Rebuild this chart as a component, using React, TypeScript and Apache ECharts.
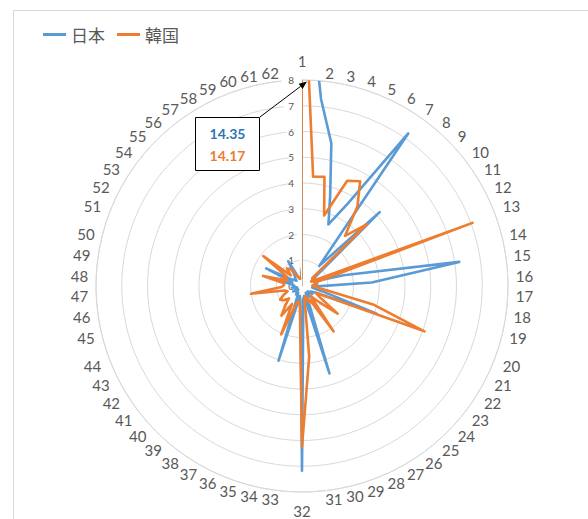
import React, { useEffect, useRef } from "react";
import * as echarts from "echarts";

const categories = [
  "1","2","3","4","5","6","7","8","9","10","11","12","13","14","15","16","17","18","19","20",
  "21","22","23","24","25","26","27","28","29","30","31","32","33","34","35","36","37","38","39","40",
  "41","42","43","44","45","46","47","48","49","50","51","52","53","54","55","56","57","58","59","60",
  "61","62",
];

// 日本
const japan = [
  14.35, 7.3, 5.66, 3.65, 2.6, 3.66, 7.22, 1.03, 4.16, 0.9,
  0.5, 0.4, 0.5, 1.66, 6.18, 2.71, 0.45, 0.4, 0.8, 3.09,
  0.6, 0.4, 0.5, 0.3, 0.4, 0.5, 0.3, 0.6, 3.56, 0.4,
  0.5, 7.17, 0.6, 0.4, 3.04, 0.5, 0.3, 0.4, 0.3, 0.2,
  0.3, 0.4, 0.2, 0.3, 0.2, 0.4, 0.3, 0.3, 0.4, 0.9,
  0.4, 1.55, 0.5, 0.4, 0.3, 0.4, 0.5, 1.1, 0.4, 0.3,
  0.3, 0.3,
];

// 韓国
const korea = [
  14.17, 4.27, 4.33, 2.87, 4.45, 4.65, 3.77, 2.57, 3.47, 0.5,
  0.6, 0.4, 7.06, 0.5, 0.6, 0.4, 0.5, 0.8, 2.85, 5.07,
  0.6, 0.8, 1.75, 0.9, 0.5, 2.15, 0.6, 0.7, 0.4, 0.5,
  2.76, 6.24, 0.8, 0.6, 0.7, 2.05, 0.8, 1.4, 1.0, 0.7,
  0.9, 1.0, 0.8, 0.6, 0.7, 2.0, 0.8, 0.7, 0.7, 1.56,
  0.6, 0.8, 0.7, 1.9, 0.6, 0.9, 0.8, 0.6, 0.4, 0.3,
  0.3, 0.3,
];

const radiusMin = 0;
const radiusMax = 8;
const radiusStep = 1;

const BLUE = "#5b9bd5";
const ORANGE = "#ed7d31";
const GREY_TEXT = "#595959";
const NUM_FONT = "Lato, 'Noto Sans', sans-serif";

// Excel-like placement of the category labels around the circle
function labelPadding(i: number, n: number, text: string) {
  const th = (i * 2 * Math.PI) / n;
  const s = Math.sin(th);
  const c = Math.cos(th);
  const w = text.length * 8.4;
  const h2 = 7.5;
  let ox: number;
  let oy: number;
  if (Math.abs(s) < 0.01) {
    ox = 0;
    oy = -Math.sign(c) * 19;
  } else {
    ox = Math.sign(s) * (w / 2 + 2 + 6 * Math.abs(s));
    oy = Math.abs(c) > 0.3 ? -Math.sign(c) * (h2 + 0.5) : (-c * (h2 + 0.5)) / 0.3;
  }
  let pt = 0, pr = 0, pb = 0, pl = 0;
  if (Math.abs(s) < 0.3) {
    if (ox >= 0) pl = 2 * ox;
    else pr = -2 * ox;
  } else if (s > 0) pl = ox - w / 2;
  else pr = -ox - w / 2;
  if (Math.abs(c) < 0.3) {
    if (oy >= 0) pt = 2 * oy;
    else pb = -2 * oy;
  } else if (c > 0) pb = -oy - h2;
  else pt = oy - h2;
  return [Math.max(0, pt), Math.max(0, pr), Math.max(0, pb), Math.max(0, pl)];
}

export default function App() {
  const ref = useRef<HTMLDivElement>(null);

  useEffect(() => {
    if (!ref.current) return;
    const chart = echarts.init(ref.current, null, { renderer: "svg" });
    const closeLoop = (arr: number[]) => [
      ...arr.map((v, i) => [v, i]),
      [arr[0], 0],
    ];
    const CX = 302;
    const CY = 286;
    const R = 206;

    chart.setOption({
      animation: false,
      backgroundColor: "#ffffff",
      legend: {
        left: 38,
        top: 21,
        itemGap: 12,
        itemWidth: 23,
        itemHeight: 3,
        icon: "rect",
        textStyle: {
          color: GREY_TEXT,
          fontSize: 17,
          fontFamily: "'Noto Sans CJK JP', sans-serif",
        },
        data: ["日本", "韓国"],
      },
      polar: { center: [CX, CY], radius: R },
      angleAxis: {
        type: "category",
        data: categories.map((c, i) => ({
          value: c,
          textStyle: {
            color: GREY_TEXT,
            fontSize: 15,
            fontFamily: NUM_FONT,
            lineHeight: 15,
            padding: labelPadding(i, categories.length, c),
          },
        })),
        boundaryGap: false,
        startAngle: 90,
        clockwise: true,
        axisLine: { show: true, lineStyle: { color: "#d9d9d9", width: 1 } },
        axisTick: { show: false },
        splitLine: { show: false },
        axisLabel: {
          interval: 0,
          color: GREY_TEXT,
          fontSize: 15,
          lineHeight: 15,
          margin: 0,
          fontFamily: NUM_FONT,
        },
      },
      radiusAxis: {
        type: "value",
        min: radiusMin,
        max: radiusMax,
        interval: radiusStep,
        axisLine: { show: true, lineStyle: { color: "#bfbfbf", width: 1 } },
        axisTick: { show: false },
        splitLine: { show: true, lineStyle: { color: "#d9d9d9", width: 1 } },
        axisLabel: {
          color: GREY_TEXT,
          fontSize: 10,
          margin: 8,
          fontFamily: NUM_FONT,
        },
        z: 1,
      },
      series: [
        {
          name: "日本",
          type: "line",
          coordinateSystem: "polar",
          data: closeLoop(japan),
          symbol: "none",
          showSymbol: false,
          clip: true,
          lineStyle: { color: BLUE, width: 2.6, join: "round" },
          itemStyle: { color: BLUE },
          z: 3,
        },
        {
          name: "韓国",
          type: "line",
          coordinateSystem: "polar",
          data: closeLoop(korea),
          symbol: "none",
          showSymbol: false,
          clip: true,
          lineStyle: { color: ORANGE, width: 2.6, join: "round" },
          itemStyle: { color: ORANGE },
          z: 4,
        },
      ],
    });

    let tip: number[] | undefined;
    try {
      tip = chart.convertToPixel({ polarIndex: 0 } as any, [radiusMax, 0]) as any;
    } catch (e) {
      tip = undefined;
    }
    if (!tip || isNaN(tip[0])) tip = [CX, CY - R];
    const tx = tip[0] + 5;
    const ty = tip[1] + 1.5;
    const sx = 260;
    const sy = 117;
    const dx = tx - sx;
    const dy = ty - sy;
    const len = Math.sqrt(dx * dx + dy * dy);
    const ux = dx / len;
    const uy = dy / len;
    const bx = tx - ux * 8;
    const by = ty - uy * 8;
    const px = -uy * 3.2;
    const py = ux * 3.2;

    chart.setOption({
      graphic: [
        {
          type: "rect",
          silent: true,
          z: -10,
          shape: { x: 13.5, y: 10.5, width: 600, height: 600 },
          style: { fill: "none", stroke: "#d9d9d9", lineWidth: 1 },
        },
        {
          type: "line",
          z: 100,
          shape: { x1: sx, y1: sy, x2: bx, y2: by },
          style: { stroke: "#000", lineWidth: 1 },
        },
        {
          type: "polygon",
          z: 100,
          shape: {
            points: [
              [tx, ty],
              [bx + px, by + py],
              [bx - px, by - py],
            ],
          },
          style: { fill: "#000" },
        },
        {
          type: "rect",
          z: 100,
          shape: { x: 195.5, y: 117.5, width: 64, height: 53 },
          style: { fill: "#fff", stroke: "#000", lineWidth: 1 },
        },
        {
          type: "text",
          z: 101,
          x: 227.5,
          y: 133,
          style: {
            text: japan[0].toFixed(2),
            fill: "#2e75b6",
            font: "bold 14px Lato, 'Noto Sans', sans-serif",
            align: "center",
            verticalAlign: "middle",
          },
        },
        {
          type: "text",
          z: 101,
          x: 227.5,
          y: 155,
          style: {
            text: korea[0].toFixed(2),
            fill: ORANGE,
            font: "bold 14px Lato, 'Noto Sans', sans-serif",
            align: "center",
            verticalAlign: "middle",
          },
        },
      ],
    });

    return () => chart.dispose();
  }, []);

  return (
    <div
      ref={ref}
      style={{ position: "fixed", left: 0, top: 0, width: 588, height: 519 }}
    />
  );
}
